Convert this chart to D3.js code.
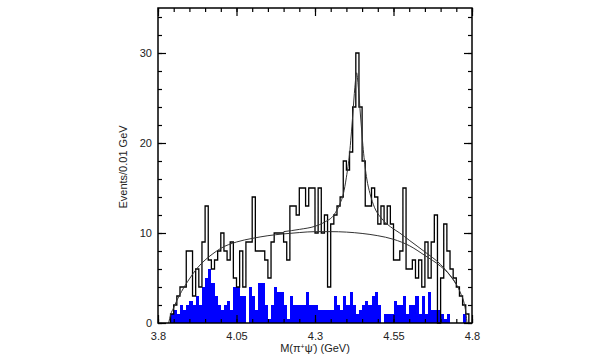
<!DOCTYPE html>
<html><head><meta charset="utf-8">
<script src="https://cdn.jsdelivr.net/npm/d3@7"></script>
<style>
body{margin:0;background:#fff}
svg{display:block}
text{font-family:"Liberation Sans",Arial,Helvetica,sans-serif}
</style>
</head><body>
<svg id="chart" width="600" height="360"></svg>
<script>
// ---- data ----
const binLow = [
 3.80,3.81,3.82,3.83,3.84,3.85,3.86,3.87,3.88,3.89,
 3.90,3.91,3.92,3.93,3.94,3.95,3.96,3.97,3.98,3.99,
 4.00,4.01,4.02,4.03,4.04,4.05,4.06,4.07,4.08,4.09,
 4.10,4.11,4.12,4.13,4.14,4.15,4.16,4.17,4.18,4.19,
 4.20,4.21,4.22,4.23,4.24,4.25,4.26,4.27,4.28,4.29,
 4.30,4.31,4.32,4.33,4.34,4.35,4.36,4.37,4.38,4.39,
 4.40,4.41,4.42,4.43,4.44,4.45,4.46,4.47,4.48,4.49,
 4.50,4.51,4.52,4.53,4.54,4.55,4.56,4.57,4.58,4.59,
 4.60,4.61,4.62,4.63,4.64,4.65,4.66,4.67,4.68,4.69,
 4.70,4.71,4.72,4.73,4.74,4.75,4.76,4.77,4.78,4.79];
const binWidth = 0.01;

// events per bin (black outline histogram)
const dataCounts = [
 0,0,0,0,1,2,3,4,4,8,
 8,3,6,4,9,13,7,6,7,8,
 10,8,7,9,5,4,8,4,9,9,
 14,8,8,8,7,5,9,10,10,10,
 9,7,13,13,12,15,15,13,15,15,
 10,15,10,12,4,11,12,13,14,18,
 17,19,24,30,24,18,13,13,15,14,
 11,13,11,13,11,7,7,8,15,6,
 6,7,5,7,4,9,5,9,12,0,
 5,11,8,6,5,4,3,2,1,0];

// sideband events per bin (blue filled histogram)
const sidebandCounts = [
 0,0,0,0,1,1.5,1,2,1.5,2,
 2.5,2,3,2,4,5,6,4.5,3,2,
 1.5,2,2.5,1.5,4,4,3,3,0,4,
 3,1.5,4.5,4.5,2,0.5,2,4,3.5,3.5,
 2,0.5,3,2,2,2,2,3.5,2,2,
 2,1.5,1.5,1.5,1.5,1.5,3,2,1.5,3,
 2,3.5,2,1,1.5,2,2.5,2,3,3.5,
 2,0,1,1,1,2.5,2,2,3,1,
 2,2,3,1,3,1,3.5,1.5,1.5,1.5,
 1,0.5,1,0,0,0,0,1,0,0];

// background curve
const bkgMass  = [3.834,3.840,3.850,3.860,3.875,3.900,3.925,3.950,3.975,4.000,4.050,4.100,4.150,4.200,4.250,4.300,4.350,4.400,4.450,4.500,4.550,4.600,4.650,4.700,4.730,4.750,4.765,4.775,4.781,4.784];
const bkgValue = [0,0.9,1.7,2.5,3.5,4.9,6.1,7.0,7.7,8.3,9.0,9.4,9.7,9.9,10.05,10.15,10.15,10.1,9.95,9.7,9.3,8.6,7.5,6.3,5.3,4.3,3.2,2.2,1.0,0];

// signal + background curve
const fitMass  = [4.200,4.250,4.300,4.330,4.360,4.380,4.390,4.400,4.410,4.420,4.427,4.4325,4.438,4.445,4.455,4.465,4.475,4.490,4.510,4.540,4.570,4.600,4.650,4.700,4.730,4.750];
const fitValue = [10.15,10.4,10.75,11.2,12.0,13.3,14.3,16.2,18.8,23.0,26.2,27.8,26.2,23.0,18.8,16.0,14.4,12.8,11.7,10.7,10.0,9.2,7.9,6.5,5.3,4.3];

const xTickValues = [3.8,4.05,4.3,4.55,4.8];
const xTickLabels = ["3.8","4.05","4.3","4.55","4.8"];
const yTickValues = [0,10,20,30];
const yTickLabels = ["0","10","20","30"];
const xLabel = "M(π⁺ψ′) (GeV)";
const yLabel = "Events/0.01 GeV";

// ---- layout ----
const L = 158, R = 472, T = 8, B = 323;
const svg = d3.select("#chart");
const x = d3.scaleLinear().domain([3.8, 4.8]).range([L, R]);
const y = d3.scaleLinear().domain([0, 35]).range([B, T]);

// blue sideband histogram (filled steps)
const sbPts = binLow.map((m, i) => ({m, v: sidebandCounts[i]}));
sbPts.push({m: binLow[binLow.length-1] + binWidth, v: sidebandCounts[sidebandCounts.length-1]});
svg.append("path")
  .datum(sbPts)
  .attr("fill", "#0000ff")
  .attr("shape-rendering", "crispEdges")
  .attr("d", d3.area().curve(d3.curveStepAfter)
    .x(d => x(d.m)).y0(y(0)).y1(d => y(d.v)));

// black data histogram (outline steps)
let first = dataCounts.findIndex(v => v > 0);
let last = dataCounts.length - 1 - [...dataCounts].reverse().findIndex(v => v > 0);
const dPts = [{m: binLow[first], v: 0}];
for (let i = first; i <= last; i++) dPts.push({m: binLow[i], v: dataCounts[i]});
dPts.push({m: binLow[last] + binWidth, v: 0});
dPts.push({m: binLow[last] + binWidth, v: 0});
svg.append("path")
  .datum(dPts)
  .attr("fill", "none")
  .attr("stroke", "#000")
  .attr("stroke-width", 1.3)
  .attr("d", d3.line().curve(d3.curveStepAfter).x(d => x(d.m)).y(d => y(d.v)));

// fit curves
const curveLine = d3.line().curve(d3.curveMonotoneX).x(d => x(d[0])).y(d => y(d[1]));
svg.append("path")
  .datum(bkgMass.map((m, i) => [m, bkgValue[i]]))
  .attr("fill", "none").attr("stroke", "#333").attr("stroke-width", 1)
  .attr("d", curveLine);
svg.append("path")
  .datum(fitMass.map((m, i) => [m, fitValue[i]]))
  .attr("fill", "none").attr("stroke", "#333").attr("stroke-width", 1)
  .attr("d", curveLine);

// ---- axes (ticks inside on all four sides) ----
const minorX = d3.range(3.8, 4.8001, 0.05);
const minorY = d3.range(0, 35.001, 2);
function styleAxis(g) {
  g.select(".domain").remove();
  g.selectAll(".tick line").attr("stroke", "#000").attr("stroke-width", 1.2);
  g.selectAll("text").attr("fill", "#222").style("font-size", "11px")
    .style("font-family", '"Liberation Sans",Arial,Helvetica,sans-serif');
}
svg.append("g").attr("transform", `translate(0,${B})`)
  .call(d3.axisBottom(x).tickValues(minorX).tickSize(-4).tickFormat("")).call(styleAxis);
svg.append("g").attr("transform", `translate(0,${B})`)
  .call(d3.axisBottom(x).tickValues(xTickValues).tickSize(-8).tickPadding(9)
    .tickFormat((d, i) => xTickLabels[i])).call(styleAxis);
svg.append("g").attr("transform", `translate(0,${T})`)
  .call(d3.axisTop(x).tickValues(minorX).tickSize(-4).tickFormat("")).call(styleAxis);
svg.append("g").attr("transform", `translate(0,${T})`)
  .call(d3.axisTop(x).tickValues(xTickValues).tickSize(-8).tickFormat("")).call(styleAxis);
svg.append("g").attr("transform", `translate(${L},0)`)
  .call(d3.axisLeft(y).tickValues(minorY).tickSize(-4).tickFormat("")).call(styleAxis);
svg.append("g").attr("transform", `translate(${L},0)`)
  .call(d3.axisLeft(y).tickValues(yTickValues).tickSize(-8).tickPadding(6)
    .tickFormat((d, i) => yTickLabels[i])).call(styleAxis);
svg.append("g").attr("transform", `translate(${R},0)`)
  .call(d3.axisRight(y).tickValues(minorY).tickSize(-4).tickFormat("")).call(styleAxis);
svg.append("g").attr("transform", `translate(${R},0)`)
  .call(d3.axisRight(y).tickValues(yTickValues).tickSize(-8).tickFormat("")).call(styleAxis);

// frame
svg.append("rect").attr("x", L).attr("y", T).attr("width", R - L).attr("height", B - T)
  .attr("fill", "none").attr("stroke", "#000").attr("stroke-width", 1.5);

// axis titles
const xt = svg.append("text").attr("x", (L + R) / 2).attr("y", 352)
  .attr("text-anchor", "middle").attr("fill", "#222").style("font-size", "11px");
xt.append("tspan").text("M(π");
xt.append("tspan").attr("baseline-shift", "super").style("font-size", "7px").text("+");
xt.append("tspan").text("ψ");
xt.append("tspan").attr("baseline-shift", "super").style("font-size", "7px").text("′");
xt.append("tspan").text(") (GeV)");

svg.append("text").attr("transform", "translate(127,167) rotate(-90)")
  .attr("text-anchor", "middle").attr("fill", "#222").style("font-size", "11px")
  .text(yLabel);
</script>
</body></html>
